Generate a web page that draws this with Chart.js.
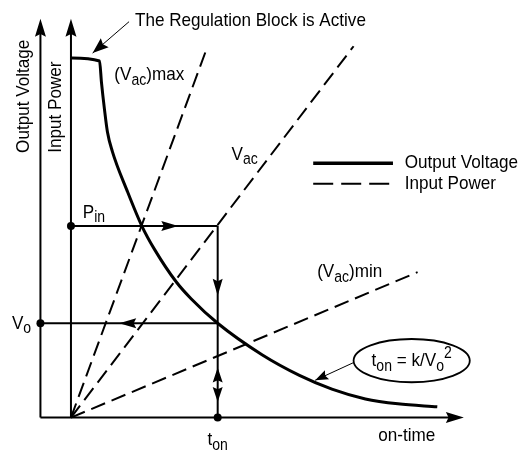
<!DOCTYPE html>
<html>
<head>
<meta charset="utf-8">
<script src="https://cdn.jsdelivr.net/npm/chart.js@4/dist/chart.umd.min.js"></script>
<style>
  html, body { margin: 0; padding: 0; background: #fff; }
  #wrap { width: 524px; height: 455px; }
</style>
</head>
<body>
<div id="wrap"><canvas id="diagram" width="524" height="455"></canvas></div>
<script>
// on-time (x) vs output voltage / input power (y), arbitrary units, origin at the input power axis
const outputT = [0, 2.9, 3.1, 3.4, 3.7, 4.2, 5.7, 7.2, 8.5, 10.7, 12.2, 14.9, 19.4, 23.2, 26.5, 29.9, 33.2, 37.2];
const outputV = [36.6, 36.3, 34.1, 31.4, 29.1, 27.1, 23.1, 19.5, 17.1, 13.8, 12.1, 9.6, 6.4, 4.3, 2.9, 1.9, 1.4, 1.1];

// input power lines, one per line voltage, all starting at the origin
const powerLineNames = ['(Vac)max', 'Vac', '(Vac)min'];
const powerLineEndT = [13.8, 28.7, 35.2];
const powerLineEndP = [37.6, 37.8, 14.8];

// operating point
const pinLevel = 19.5;
const voLevel = 9.6;
const tonValue = 14.9;

// axes
const voltageAxisT = -3.1;
const axisTop = 40.6;
const timeAxisEnd = 39.9;

// condensed look: Arial metrics squeezed horizontally
const FONT = "'Liberation Sans', Arial, sans-serif";
const FONT_SIZE = 19;
const SQUEEZE = 0.9;
const INK = '#000';

const xy = (xs, ys) => xs.map((x, i) => ({ x, y: ys[i] }));

const datasets = [
  { data: xy([voltageAxisT, voltageAxisT], [0, axisTop - 1]), borderWidth: 2 },
  { data: xy([0, 0], [0, axisTop - 1]), borderWidth: 2 },
  { data: xy([voltageAxisT, timeAxisEnd - 1], [0, 0]), borderWidth: 2 },
  { data: xy([0, tonValue], [pinLevel, pinLevel]), borderWidth: 2 },
  { data: xy([tonValue, tonValue], [pinLevel, 0]), borderWidth: 2 },
  { data: xy([voltageAxisT, tonValue], [voLevel, voLevel]), borderWidth: 2 },
  ...powerLineEndT.map((t, i) => ({
    data: xy([0, t], [0, powerLineEndP[i]]), borderWidth: 2, borderDash: [15, 7]
  })),
  { data: xy(outputT, outputV), borderWidth: 3, cubicInterpolationMode: 'monotone' },
  {
    data: xy([0, voltageAxisT, tonValue], [pinLevel, voLevel, 0]),
    showLine: false, pointRadius: 4, pointBackgroundColor: INK, pointBorderWidth: 0
  }
];
datasets.forEach(d => {
  d.borderColor = INK;
  if (d.pointRadius === undefined) d.pointRadius = 0;
});

// arrow heads: tip and a point behind it giving the direction
const heads = [
  { tip: [voltageAxisT, axisTop], from: [voltageAxisT, 0], len: 18, half: 5.5 },
  { tip: [0, axisTop], from: [0, 0], len: 18, half: 5.5 },
  { tip: [timeAxisEnd, 0], from: [0, 0], len: 18, half: 5.5 },
  { tip: [10.9, pinLevel], from: [0, pinLevel], len: 17, half: 5 },
  { tip: [tonValue, 12.4], from: [tonValue, pinLevel], len: 17, half: 5 },
  { tip: [4.9, voLevel], from: [tonValue, voLevel], len: 17, half: 5 },
  { tip: [tonValue, 5.1], from: [tonValue, 0], len: 15, half: 5 },
  { tip: [tonValue, 1.6], from: [tonValue, pinLevel], len: 15, half: 5 }
];

// callouts: thin leader with a filled head
const callouts = [
  { from: [5.9, 40.3], tip: [2.2, 37.1], len: 16, half: 6 },
  { from: [28.7, 5.6], tip: [24.8, 3.8], len: 13, half: 5 }
];

const formulaBox = { center: [34.6, 5.8], rx: 5.9, ry: 2.2 };

// text pieces: s = subscript, p = superscript
const labels = [
  { at: [6.5, 40.4], parts: [['The Regulation Block is Active']] },
  { at: [4.4, 34.9], parts: [['(V'], ['ac', 's'], [')max']] },
  { at: [16.3, 26.8], parts: [['V'], ['ac', 's']] },
  { at: [1.2, 20.9], parts: [['P'], ['in', 's']] },
  { at: [25.0, 14.8], parts: [['(V'], ['ac', 's'], [')min']] },
  { at: [-6.0, 9.6], parts: [['V'], ['o', 's']] },
  { at: [14.9, -2.3], parts: [['t'], ['on', 's']], align: 'center' },
  { at: [31.2, -1.9], parts: [['on-time']] },
  { at: [33.9, 25.9], parts: [['Output Voltage']] },
  { at: [33.9, 23.8], parts: [['Input Power']] },
  { at: [34.6, 5.8], parts: [['t'], ['on', 's'], [' = k/V'], ['o', 's'], ['2', 'p']], align: 'center' }
];
const verticalLabels = [
  { at: [-4.8, 32.7], text: 'Output Voltage' },
  { at: [-1.5, 31.6], text: 'Input Power' }
];
const legendRows = [
  { y: 25.9, dash: [], width: 3.5 },
  { y: 23.8, dash: [20, 8], width: 2 }
];
const legendX = [24.6, 32.7];

function drawHead(ctx, tx, ty, fx, fy, len, half) {
  const a = Math.atan2(ty - fy, tx - fx);
  ctx.save();
  ctx.translate(tx, ty);
  ctx.rotate(a);
  ctx.beginPath();
  ctx.moveTo(0, 0);
  ctx.lineTo(-len, -half);
  ctx.lineTo(-len * 0.85, 0);
  ctx.lineTo(-len, half);
  ctx.closePath();
  ctx.fill();
  ctx.restore();
}

function drawRich(ctx, parts, x, y, size, align) {
  const fontOf = kind => (kind ? size * 0.82 : size) + 'px ' + FONT;
  let total = 0;
  parts.forEach(([t, kind]) => { ctx.font = fontOf(kind); total += ctx.measureText(t).width * SQUEEZE; });
  let cx = align === 'center' ? x - total / 2 : x;
  ctx.textBaseline = 'middle';
  ctx.textAlign = 'left';
  parts.forEach(([t, kind]) => {
    ctx.font = fontOf(kind);
    const dy = kind === 's' ? size * 0.3 : kind === 'p' ? -size * 0.38 : 0;
    ctx.save();
    ctx.translate(cx, y + dy);
    ctx.scale(SQUEEZE, 1);
    ctx.fillText(t, 0, 0);
    ctx.restore();
    cx += ctx.measureText(t).width * SQUEEZE;
  });
}

const annotate = {
  id: 'annotate',
  afterDatasetsDraw(chart) {
    const { ctx, scales: { x, y } } = chart;
    const px = v => x.getPixelForValue(v);
    const py = v => y.getPixelForValue(v);
    ctx.save();
    ctx.fillStyle = INK;
    ctx.strokeStyle = INK;

    heads.forEach(h => drawHead(ctx, px(h.tip[0]), py(h.tip[1]), px(h.from[0]), py(h.from[1]), h.len, h.half));

    ctx.lineWidth = 1;
    callouts.forEach(c => {
      ctx.beginPath();
      ctx.moveTo(px(c.from[0]), py(c.from[1]));
      ctx.lineTo(px(c.tip[0]), py(c.tip[1]));
      ctx.stroke();
      drawHead(ctx, px(c.tip[0]), py(c.tip[1]), px(c.from[0]), py(c.from[1]), c.len, c.half);
    });

    ctx.lineWidth = 1.8;
    ctx.beginPath();
    ctx.ellipse(px(formulaBox.center[0]), py(formulaBox.center[1]),
      px(formulaBox.rx) - px(0), py(0) - py(formulaBox.ry), 0, 0, Math.PI * 2);
    ctx.stroke();

    legendRows.forEach(r => {
      ctx.lineWidth = r.width;
      ctx.setLineDash(r.dash);
      ctx.beginPath();
      ctx.moveTo(px(legendX[0]), py(r.y));
      ctx.lineTo(px(legendX[1]), py(r.y));
      ctx.stroke();
    });
    ctx.setLineDash([]);

    labels.forEach(l => drawRich(ctx, l.parts, px(l.at[0]), py(l.at[1]), FONT_SIZE, l.align));

    verticalLabels.forEach(l => {
      ctx.save();
      ctx.translate(px(l.at[0]), py(l.at[1]));
      ctx.rotate(-Math.PI / 2);
      ctx.scale(SQUEEZE, 1);
      ctx.font = FONT_SIZE + 'px ' + FONT;
      ctx.textAlign = 'center';
      ctx.textBaseline = 'middle';
      ctx.fillText(l.text, 0, 0);
      ctx.restore();
    });
    ctx.restore();
  }
};

new Chart(document.getElementById('diagram'), {
  type: 'line',
  data: { datasets },
  options: {
    responsive: false,
    animation: false,
    layout: { padding: 0 },
    plugins: { legend: { display: false }, tooltip: { enabled: false } },
    elements: { line: { tension: 0, fill: false } },
    scales: {
      x: { type: 'linear', min: -6.8, max: 45.6, display: false },
      y: { type: 'linear', min: -3.4, max: 42.1, display: false }
    }
  },
  plugins: [annotate]
});
</script>
</body>
</html>
